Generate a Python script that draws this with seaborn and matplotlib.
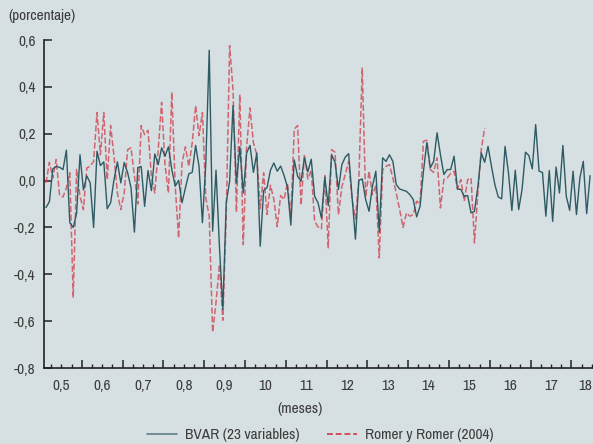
import numpy as np
import pandas as pd
import matplotlib
matplotlib.use("Agg")
import matplotlib.pyplot as plt
from matplotlib import font_manager
from matplotlib.lines import Line2D
import seaborn as sns

# Monthly monetary-policy shock series (percent), starting February 1965
bvar = [
    -0.115, -0.09, 0.05, 0.06, 0.057, 0.047, 0.13, -0.18, -0.2, -0.14,
    0.11, -0.04, 0.02, -0.01, -0.2, 0.125, 0.064, 0.08, -0.12, -0.095,
    0.004, 0.08, -0.01, 0.077, 0.034, -0.03, -0.22, 0.055, 0.06, -0.11,
    0.043, -0.043, 0.114, 0.068, 0.14, 0.104, 0.144, 0.047, -0.024, 0.001,
    -0.095, -0.031, 0.029, 0.035, 0.15, 0.061, -0.18, 0.075, 0.556, -0.216,
    0.044, -0.28, -0.55, -0.095, -0.003, 0.32, -0.01, 0.144, -0.053, 0.118,
    0.15, 0.035, 0.118, -0.28, -0.042, -0.03, 0.044, 0.075, 0.04, 0.062,
    0.022, -0.027, -0.19, 0.088, 0.018, -0.003, 0.097, 0.037, 0.091, -0.067,
    -0.095, -0.16, 0.014, -0.107, 0.11, 0.078, -0.038, 0.068, 0.10, 0.115,
    -0.067, -0.25, 0.001, 0.007, -0.081, -0.131, -0.024, 0.04, -0.22, 0.097,
    0.082, 0.11, 0.082, -0.017, -0.036, -0.041, -0.046, -0.06, -0.081, -0.155,
    -0.11, 0.04, 0.163, 0.054, 0.082, 0.204, 0.11, 0.026, 0.047, 0.047,
    0.104, -0.036, -0.038, -0.067, -0.064, -0.138, -0.131, -0.028, 0.118, 0.078,
    0.146, 0.061, -0.017, -0.07, -0.078, 0.146, 0.033, -0.128, 0.044, -0.124,
    -0.038, 0.121, 0.107, 0.05, 0.239, 0.04, 0.035, -0.152, 0.043, -0.174,
    0.058, -0.053, 0.15, -0.067, -0.127, 0.04, -0.145, 0.011, 0.082, -0.141,
    0.021,
]

romer = [
    -0.01, 0.078, 0.011, 0.09, -0.064, -0.07, -0.031, 0.033, -0.5, 0.047,
    -0.067, -0.124, 0.054, 0.061, 0.082, 0.29, 0.11, 0.29, 0.004, 0.235,
    0.104, -0.053, -0.124, -0.053, 0.132, 0.14, 0.018, -0.1, 0.235, 0.196,
    0.215, 0.018, -0.053, 0.132, 0.334, 0.068, -0.053, 0.377, -0.024, -0.245,
    0.075, 0.144, 0.061, 0.161, 0.32, 0.192, 0.29, -0.074, -0.152, -0.647,
    -0.52, -0.358, -0.596, -0.152, 0.576, 0.388, -0.135, 0.367, -0.273, 0.146,
    0.31, 0.161, 0.11, -0.12, 0.033, -0.145, -0.02, -0.08, -0.197, -0.064,
    -0.081, -0.01, -0.152, 0.22, 0.235, -0.105, 0.112, 0.007, 0.045, -0.174,
    -0.198, -0.206, 0.021, -0.287, 0.132, 0.121, -0.145, -0.027, 0.026, 0.082,
    -0.081, -0.163, 0.004, 0.48, -0.07, 0.04, -0.06, -0.021, -0.33, 0.047,
    0.061, 0.068, 0.011, -0.053, -0.124, -0.2, -0.138, -0.152, -0.145, -0.088,
    -0.1, 0.168, 0.172, 0.047, 0.035, 0.097, -0.117, 0.004, 0.011, 0.03,
    0.04, -0.036, 0.004, -0.088, 0.004, 0.011, -0.266, -0.053, 0.132, 0.225,
]

year_labels = ["0,5", "0,6", "0,7", "0,8", "0,9", "10", "11", "12", "13",
               "14", "15", "16", "17", "18"]
y_ticks = [-0.8, -0.6, -0.4, -0.2, 0.0, 0.2, 0.4, 0.6]
series_names = ["BVAR (23 variables)", "Romer y Romer (2004)"]

first_year = 1965
start_month = 1  # February


def to_time(n):
    return first_year + (start_month + 0.5 + np.arange(n)) / 12.0


df = pd.concat([
    pd.DataFrame({"t": to_time(len(bvar)), "v": bvar, "serie": series_names[0]}),
    pd.DataFrame({"t": to_time(len(romer)), "v": romer, "serie": series_names[1]}),
])

# prefer a narrow sans face if one is installed
installed = sorted({f.name for f in font_manager.fontManager.ttflist})
narrow = [n for n in installed if "Narrow" in n or "Condensed" in n]
family = narrow[:1] + ["Roboto", "DejaVu Sans"]
fsize = 11 if narrow else 10

sns.set_style("ticks")
plt.rcParams["font.family"] = family
plt.rcParams["text.color"] = "#3c3c3c"

bg = "#d6dfe2"
c_bvar = "#2e5b63"
c_rr = "#d0505c"

fig = plt.figure(figsize=(5.93, 4.44), dpi=100, facecolor=bg)
ax = fig.add_axes([44 / 593, 1 - 368 / 444, 1 - 44 / 593, (368 - 40) / 444])
ax.set_facecolor(bg)

sns.lineplot(data=df[df.serie == series_names[1]], x="t", y="v", ax=ax,
             color=c_rr, lw=1.1, alpha=0.85, legend=False,
             linestyle=(0, (4, 1.6)))
sns.lineplot(data=df[df.serie == series_names[0]], x="t", y="v", ax=ax,
             color=c_bvar, lw=1.0, legend=False)

n_years = len(year_labels)

# year boundaries as major ticks, quarters as minor ticks, labels at mid-year
ax.set_xticks(first_year + np.arange(n_years + 1), [""] * (n_years + 1))
qi = np.arange(n_years * 4)
quarters = first_year + qi[qi % 4 != 0] / 4.0
qlabels = [year_labels[int(q) - first_year] if abs(q - int(q) - 0.5) < 1e-6 else ""
           for q in quarters]
ax.set_xticks(quarters, qlabels, minor=True)
ax.set_yticks(y_ticks, [f"{v:.1f}".replace(".", ",") for v in y_ticks])

ax.set_xlim(first_year + 0.076, first_year + 13.53)
ax.set_ylim(-0.8, 0.6)

ax.tick_params(axis="both", which="major", direction="in", length=6, width=1.1,
               color="#222222", labelsize=fsize, labelcolor="#3c3c3c")
ax.tick_params(axis="x", which="minor", direction="in", length=3, width=1.0,
               color="#222222", labelsize=fsize, labelcolor="#3c3c3c", pad=8)
ax.tick_params(axis="y", which="major", pad=6)

# the last year label sits against the right edge of the figure
for lbl in ax.get_xticklabels(minor=True):
    if lbl.get_text() == year_labels[-1]:
        lbl.set_horizontalalignment("right")

for side in ["top", "right"]:
    ax.spines[side].set_visible(False)
for side in ["left", "bottom"]:
    ax.spines[side].set_color("#222222")
    ax.spines[side].set_linewidth(1.2)

ax.set_xlabel("")
ax.set_ylabel("")
fig.text(8 / 593, 1 - 16 / 444, "(porcentaje)", fontsize=fsize, ha="left", va="center")
fig.text(300 / 593, 1 - 409 / 444, "(meses)", fontsize=fsize, ha="center", va="center")

handles = [
    Line2D([], [], color="#5f7f88", lw=1.2),
    Line2D([], [], color=c_rr, lw=1.4, linestyle=(0, (3, 1.5))),
]
fig.legend(handles, series_names, loc="center", bbox_to_anchor=(320 / 593, 1 - 435 / 444),
           ncol=2, frameon=False, fontsize=fsize, handlelength=2.0,
           columnspacing=1.8, handletextpad=0.5)

fig.savefig("out.png", dpi=100, facecolor=bg)
